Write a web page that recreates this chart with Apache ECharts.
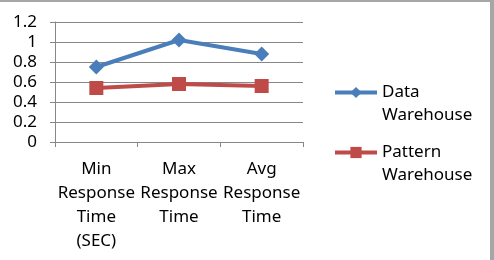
<!DOCTYPE html>
<html>
<head>
<meta charset="utf-8">
<script src="https://cdn.jsdelivr.net/npm/echarts@6/dist/echarts.min.js"></script>
<style>
  html, body { margin: 0; padding: 0; background: #fff; }
  #chart {
    width: 494px;
    height: 260px;
    box-sizing: border-box;
    border-top: 2px solid #a6a6a6;
    border-right: 4px solid #a6a6a6;
  }
</style>
</head>
<body>
<div id="chart"></div>
<script>
// data
const categories = ["Min\nResponse\nTime\n(SEC)", "Max\nResponse\nTime", "Avg\nResponse\nTime"];
const seriesNames = ["Data\nWarehouse", "Pattern\nWarehouse"];
const dataWarehouse = [0.75, 1.02, 0.88];
const patternWarehouse = [0.54, 0.58, 0.56];

const font = "Noto Sans";
const gridColor = "#878787";

// one legend per series, leading blank line keeps the icon on the first text line
function makeLegend(name, top) {
  return {
    data: [name],
    left: 333,
    top: top,
    padding: 0,
    itemWidth: 42,
    itemHeight: 14,
    itemGap: 0,
    lineStyle: { width: 4 },
    formatter: function (n) { return "\n" + n; },
    textStyle: {
      fontFamily: font,
      fontSize: 17,
      lineHeight: 23,
      color: "#000"
    }
  };
}

const myChart = echarts.init(document.getElementById("chart"));
myChart.setOption({
  animation: false,
  legend: [makeLegend(seriesNames[0], 56), makeLegend(seriesNames[1], 116)],
  grid: {
    left: 55,
    right: 187,
    top: 20,
    bottom: 118
  },
  xAxis: {
    type: "category",
    data: categories,
    boundaryGap: true,
    axisLine: { lineStyle: { color: gridColor, width: 1 } },
    axisTick: { show: true, length: 5, lineStyle: { color: gridColor } },
    axisLabel: {
      margin: 15,
      fontFamily: font,
      fontSize: 17,
      lineHeight: 24,
      color: "#000",
      interval: 0
    }
  },
  yAxis: {
    type: "value",
    min: 0,
    max: 1.2,
    interval: 0.2,
    axisLine: { show: true, lineStyle: { color: gridColor, width: 1 } },
    axisTick: { show: true, length: 5, lineStyle: { color: gridColor } },
    splitLine: { lineStyle: { color: gridColor, width: 1 } },
    axisLabel: {
      margin: 18,
      fontFamily: font,
      fontSize: 17,
      color: "#000",
      formatter: function (v) { return String(+v.toFixed(1)); }
    }
  },
  series: [
    {
      name: seriesNames[0],
      type: "line",
      data: dataWarehouse,
      symbol: "diamond",
      symbolSize: 15,
      color: "#4a7ebb",
      lineStyle: { width: 4 }
    },
    {
      name: seriesNames[1],
      type: "line",
      data: patternWarehouse,
      symbol: "rect",
      symbolSize: 14,
      color: "#be4b48",
      lineStyle: { width: 4 }
    }
  ]
});
</script>
</body>
</html>
